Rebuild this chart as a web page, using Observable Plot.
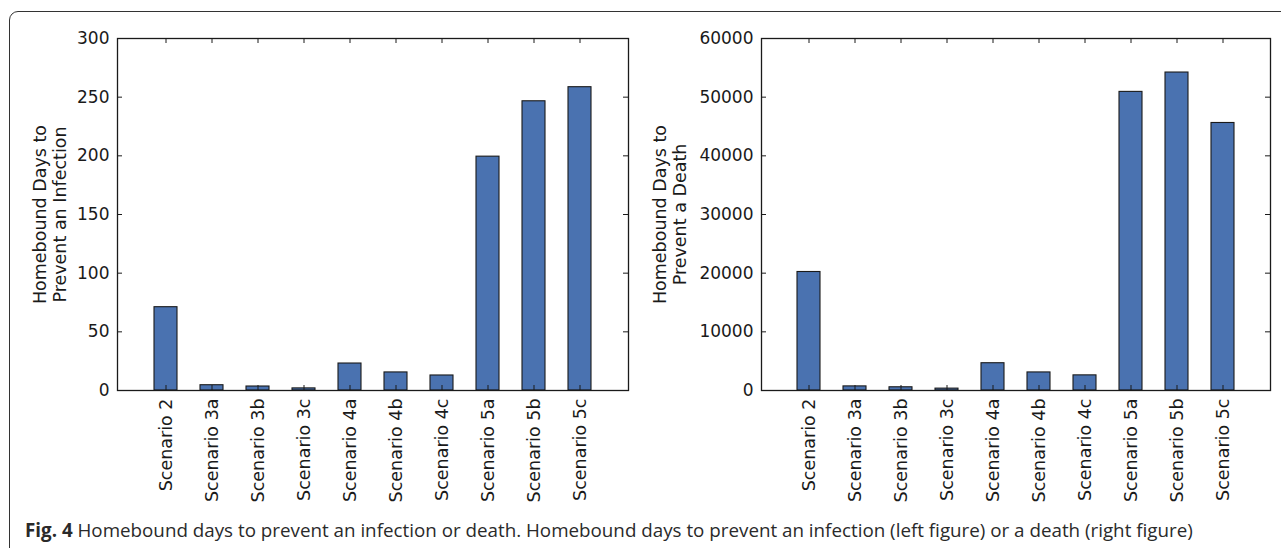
<!DOCTYPE html>
<html>
<head>
<meta charset="utf-8">
<script src="https://cdn.jsdelivr.net/npm/d3@7"></script>
<script src="https://cdn.jsdelivr.net/npm/@observablehq/plot@0.6"></script>
<style>
  html, body { margin: 0; padding: 0; background: #fff; }
  body { width: 1281px; height: 548px; overflow: hidden; position: relative; }
  #box { position: absolute; left: 9px; top: 11px; width: 1320px; height: 600px;
         border: 1.3px solid #333; border-radius: 9px; box-sizing: border-box; }
  #left { position: absolute; left: 0; top: 0; }
  #right { position: absolute; left: 640px; top: 0; }
  #caption { position: absolute; left: 25px; top: 519px; font-family: "Open Sans", sans-serif;
             font-size: 18.8px; line-height: 22px; color: #2a2a2a; white-space: nowrap; }
  #caption b { font-weight: 700; }
</style>
</head>
<body>
<div id="box"></div>
<div id="left"></div>
<div id="right"></div>
<div id="caption"><b>Fig. 4</b> Homebound days to prevent an infection or death. Homebound days to prevent an infection (left figure) or a death (right figure)</div>
<script>
const scenarios = ["Scenario 2", "Scenario 3a", "Scenario 3b", "Scenario 3c", "Scenario 4a",
                   "Scenario 4b", "Scenario 4c", "Scenario 5a", "Scenario 5b", "Scenario 5c"];
const daysPerInfection = [71, 4.5, 3.4, 1.8, 23, 15.4, 12.8, 199.3, 246.5, 258.5];
const daysPerDeath = [20200, 700, 550, 320, 4650, 3080, 2580, 50900, 54200, 45600];
const infectionTicks = [0, 50, 100, 150, 200, 250, 300];
const deathTicks = [0, 10000, 20000, 30000, 40000, 50000, 60000];
const infectionLabel = "Homebound Days to\nPrevent an Infection";
const deathLabel = "Homebound Days to\nPrevent a Death";

function chart(values, yTicks, label, {width, marginLeft, marginRight, labelDx}) {
  const height = 510, marginTop = 38, marginBottom = 120;
  const innerW = width - marginLeft - marginRight;
  const innerH = height - marginTop - marginBottom;
  const data = scenarios.map((s, i) => ({s, v: values[i]}));
  const ink = "#1a1a1a";
  return Plot.plot({
    width, height, marginLeft, marginRight, marginTop, marginBottom,
    style: {fontFamily: "DejaVu Sans", fontSize: "17px", color: ink, background: "transparent", overflow: "visible"},
    x: {type: "band", domain: scenarios, paddingInner: 0.5, paddingOuter: 0.75, align: 0.5, label: null},
    y: {domain: [yTicks[0], yTicks[yTicks.length - 1]], label: null},
    marks: [
      Plot.barY(data, {x: "s", y: "v", fill: "#4a72b0", stroke: ink, strokeWidth: 1.1}),
      Plot.tickY(yTicks, {y: d => d, insetRight: innerW - 5, stroke: ink, strokeWidth: 1}),
      Plot.tickY(yTicks, {y: d => d, insetLeft: innerW - 5, stroke: ink, strokeWidth: 1}),
      Plot.tickX(scenarios, {x: d => d, insetTop: innerH - 5, stroke: ink, strokeWidth: 1}),
      Plot.tickX(scenarios, {x: d => d, insetBottom: innerH - 5, stroke: ink, strokeWidth: 1}),
      Plot.frame({stroke: ink, strokeWidth: 1.3}),
      Plot.axisY({ticks: yTicks, tickSize: 0, tickPadding: 8, tickFormat: d => String(d), label: null, fontSize: 17}),
      Plot.axisX({tickSize: 0, tickPadding: 8, tickRotate: -90, label: null, fontSize: 17.5}),
      Plot.text([label], {text: d => d, frameAnchor: "left", textAnchor: "middle", lineAnchor: "middle",
                          rotate: -90, dx: labelDx, lineHeight: 1.15, fontSize: 17.5, fill: ink})
    ]
  });
}

document.getElementById("left").append(
  chart(daysPerInfection, infectionTicks, infectionLabel,
        {width: 640, marginLeft: 117, marginRight: 12, labelDx: -68}));
document.getElementById("right").append(
  chart(daysPerDeath, deathTicks, deathLabel,
        {width: 641, marginLeft: 121, marginRight: 11, labelDx: -92}));
</script>
</body>
</html>
